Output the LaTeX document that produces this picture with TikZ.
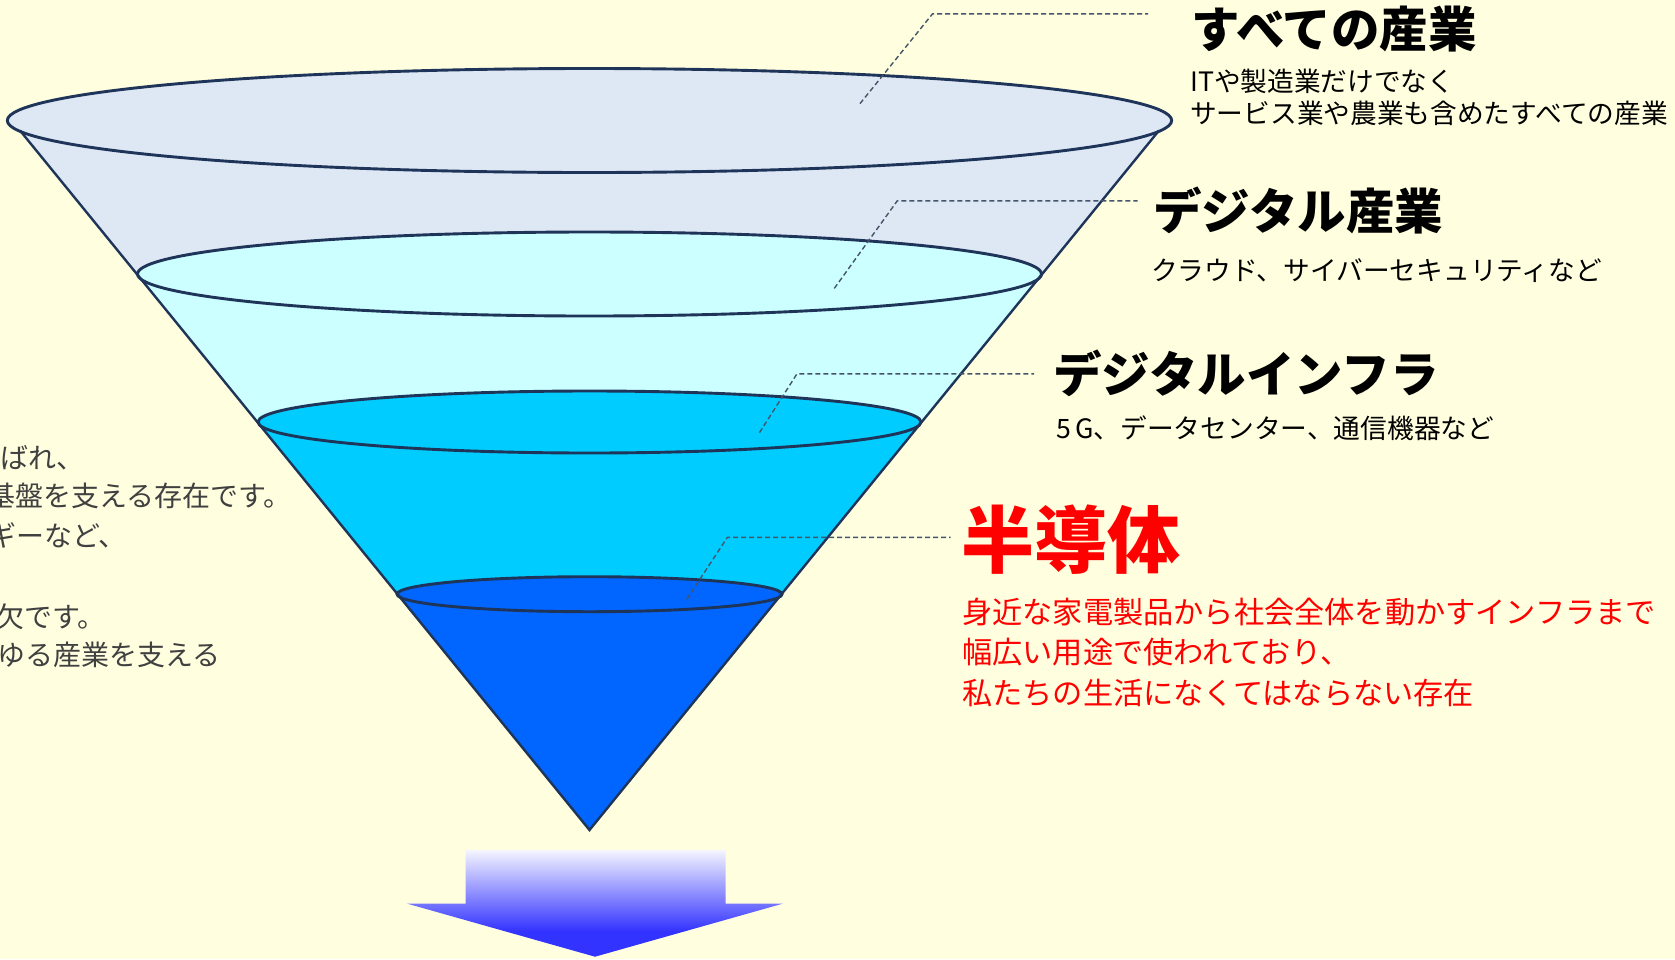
\documentclass[tikz,border=0pt]{standalone}
\usepackage{fontspec}
\newfontfamily\jp{Noto Sans CJK JP}
\definecolor{bg}{HTML}{FFFFE0}
\definecolor{cA}{HTML}{DEE8F5}
\definecolor{cB}{HTML}{CCFFFF}
\definecolor{cC}{HTML}{00CCFF}
\definecolor{cD}{HTML}{0066FF}
\definecolor{edgec}{HTML}{1F3459}
\definecolor{leadc}{HTML}{44546A}
\definecolor{graytext}{HTML}{404040}
\definecolor{redtext}{HTML}{FF0000}
\definecolor{arrowT}{HTML}{F5F5FF}
\definecolor{arrowB}{HTML}{3333FF}
\pgfdeclareverticalshading{arrowsh}{100bp}{color(0bp)=(arrowB); color(37bp)=(arrowB); color(75bp)=(arrowT); color(100bp)=(arrowT)}
\begin{document}
\begin{tikzpicture}[x=1pt,y=-1pt,
  edge/.style={draw=edgec, line width=2.9pt},
  sideline/.style={draw=edgec, line width=2.4pt, line join=miter},
  leader/.style={draw=leadc, line width=1.4pt, dash pattern=on 5pt off 3pt},
  titletext/.style={font=\jp\bfseries\fontsize{48.5}{56}\selectfont, anchor=base west, inner sep=0pt, text=black},
  bodytext/.style={font=\jp\fontsize{26.7}{31}\selectfont, anchor=base west, inner sep=0pt, text=black},
  redtitle/.style={font=\jp\bfseries\fontsize{73}{80}\selectfont, anchor=base west, inner sep=0pt, text=redtext},
  redbody/.style={font=\jp\fontsize{30.2}{40}\selectfont, anchor=base west, inner sep=0pt, text=redtext},
  lefttext/.style={font=\jp\fontsize{28}{38}\selectfont, anchor=base west, inner sep=0pt, text=graytext}]
\useasboundingbox[fill=bg] (0,0) rectangle (1675,959);
\begin{scope}
\clip (0,0) rectangle (1675,959);
% apex
\coordinate (apex) at (589.5,830);
% cone layers (fills)
\fill[cA] (20,130.5) -- (apex) -- (1159,130.5) -- cycle;
\fill[cA] (589.5,120.5) ellipse [x radius=582.2, y radius=52];
\fill[cB] (137.5,274) -- (apex) -- (1041.5,274) -- cycle;
\fill[cB] (589.5,274) ellipse [x radius=452, y radius=42];
\fill[cC] (258,422) -- (apex) -- (921,422) -- cycle;
\fill[cC] (589.5,422) ellipse [x radius=331.5, y radius=31];
\fill[cD] (397,594.2) -- (apex) -- (782,594.2) -- cycle;
\fill[cD] (589.5,594.2) ellipse [x radius=192.5, y radius=17.5];
% outlines
\draw[sideline] (20,130.5) -- (apex) -- (1159,130.5);
\draw[edge] (589.5,120.5) ellipse [x radius=582.2, y radius=52];
\draw[edge] (589.5,274) ellipse [x radius=452, y radius=42];
\draw[edge] (589.5,422) ellipse [x radius=331.5, y radius=31];
\draw[edge] (589.5,594.2) ellipse [x radius=192.5, y radius=17.5];
% leader lines
\coordinate (l1a) at (860,103.6);
\coordinate (l1b) at (932.5,13.9);
\coordinate (l1c) at (1148,13.9);
\coordinate (l2a) at (834.3,288.4);
\coordinate (l2b) at (897.3,200.8);
\coordinate (l2c) at (1137.6,200.8);
\coordinate (l3a) at (759.5,432.6);
\coordinate (l3b) at (796.9,373.9);
\coordinate (l3c) at (1034,373.9);
\coordinate (l4a) at (686.7,599.3);
\coordinate (l4b) at (727.4,537.3);
\coordinate (l4c) at (950.7,537.3);
\draw[leader] (l1a) -- (l1b) -- (l1c);
\draw[leader] (l2a) -- (l2b) -- (l2c);
\draw[leader] (l3a) -- (l3b) -- (l3c);
\draw[leader] (l4a) -- (l4b) -- (l4c);
% right texts
\node[titletext] (t1) at (1191,47) {すべての産業};
\node[bodytext] (b1a) at (1190,91.5) {ITや製造業だけでなく};
\node[bodytext] (b1b) at (1190,123) {サービス業や農業も含めたすべての産業};
\node[titletext] (t2) at (1153,229) {デジタル産業};
\node[bodytext] (b2) at (1151,280) {クラウド、サイバーセキュリティなど};
\node[titletext] (t3) at (1053,392) {デジタルインフラ};
\node[bodytext] (b3) at (1056,438) {5\,G、データセンター、通信機器など};
\node[redtitle] (t4) at (961,567) {半導体};
\node[redbody] (r1) at (962,623) {身近な家電製品から社会全体を動かすインフラまで};
\node[redbody] (r2) at (962,663) {幅広い用途で使われており、};
\node[redbody] (r3) at (962,704) {私たちの生活になくてはならない存在};
% left texts (cut by the picture edge)
\node[lefttext] (g1) at (0,468) {ばれ、};
\node[lefttext] (g2) at (-13,506) {基盤を支える存在です。};
\node[lefttext] (g3) at (-12,546) {ギーなど、};
\node[lefttext] (g5) at (-4,627) {欠です。};
\node[lefttext] (g6) at (-3,665) {ゆる産業を支える};
% arrow
\shade[shading=arrowsh] (465.5,850) -- (725.5,850) -- (725.5,903.5) -- (783.3,903.5) -- (595,956.7) -- (406.7,903.5) -- (465.5,903.5) -- cycle;
\end{scope}
\end{tikzpicture}
\end{document}
